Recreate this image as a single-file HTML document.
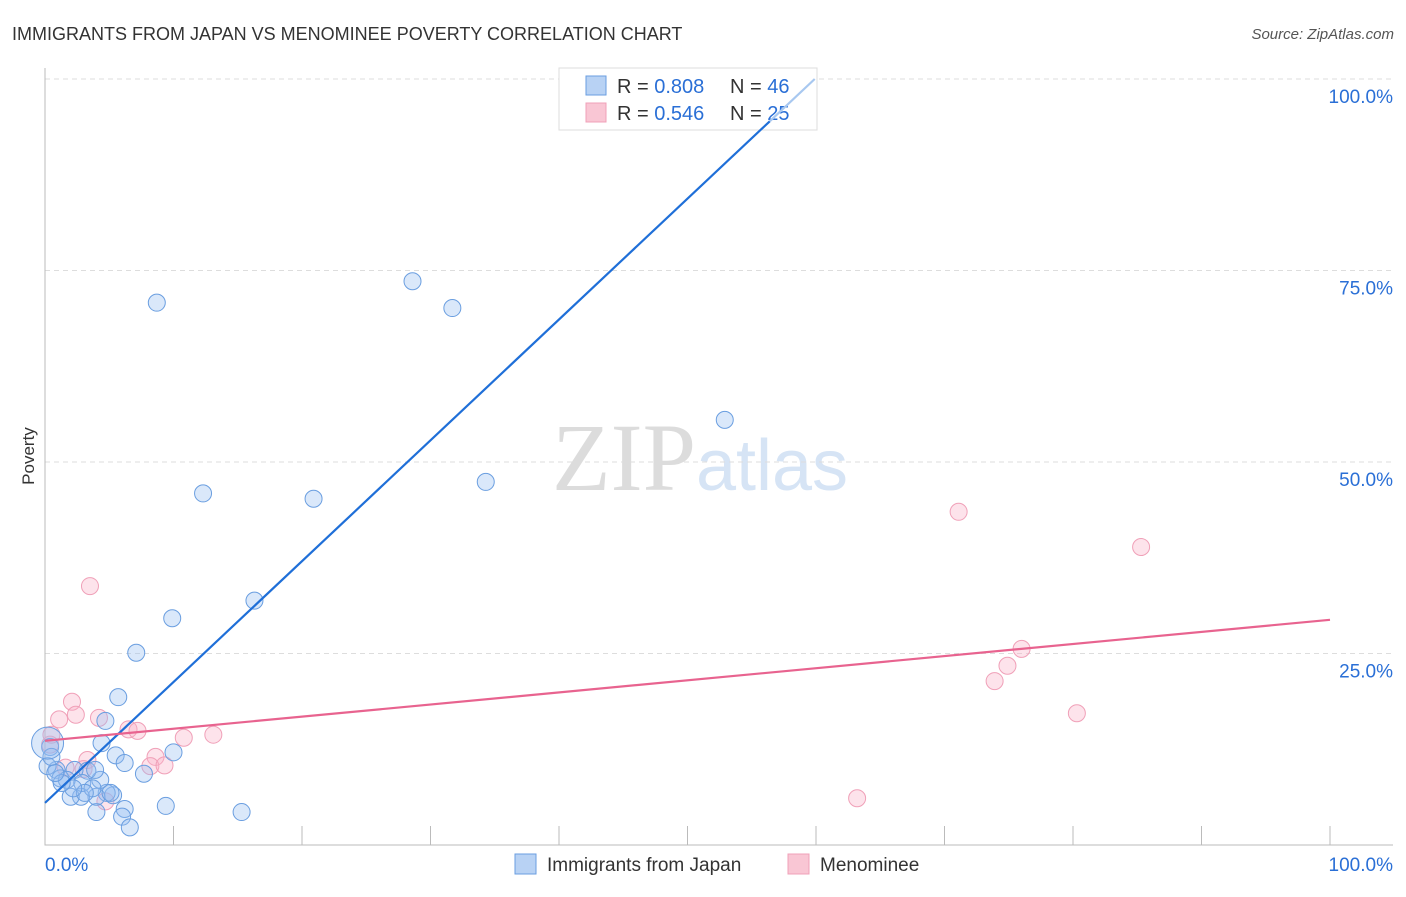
<!DOCTYPE html>
<html><head><meta charset="utf-8"><style>
body{margin:0;background:#fff;font-family:"Liberation Sans",sans-serif;}
svg text{font-family:"Liberation Sans",sans-serif;}
</style></head><body>
<svg id="chart" width="1406" height="892" xmlns="http://www.w3.org/2000/svg">
<text x="12" y="40" font-size="18" fill="#333">IMMIGRANTS FROM JAPAN VS MENOMINEE POVERTY CORRELATION CHART</text>
<text x="1394" y="39" font-size="15" fill="#555" text-anchor="end" font-style="italic">Source: ZipAtlas.com</text>
<text x="700" y="490" font-size="96" fill="#e4e4e4" text-anchor="middle" font-family="Liberation Serif"><tspan fill="#dcdcdc" font-family="Liberation Serif">ZIP</tspan><tspan fill="#d6e4f5" font-family="Liberation Sans" font-size="72">atlas</tspan></text>
<text x="34" y="456" font-size="17" fill="#333" text-anchor="middle" transform="rotate(-90 34 456)">Poverty</text>
<g id="grid"></g>
<g id="marks"></g>
<g>
<rect x="559" y="68" width="258" height="62" fill="#fff" stroke="#ddd"/>
<rect x="586" y="76" width="20" height="19" fill="#b8d2f4" stroke="#6a9ee0"/>
<rect x="586" y="103" width="20" height="19" fill="#f9c6d4" stroke="#f0a0b8"/>
<text x="617" y="93" font-size="20" fill="#333">R = <tspan fill="#2a6fd6">0.808</tspan></text>
<text x="730" y="93" font-size="20" fill="#333">N = <tspan fill="#2a6fd6">46</tspan></text>
<text x="617" y="120" font-size="20" fill="#333">R = <tspan fill="#2a6fd6">0.546</tspan></text>
<text x="730" y="120" font-size="20" fill="#333">N = <tspan fill="#2a6fd6">25</tspan></text>
</g>
<g id="lines"></g>
<g>
<rect x="515" y="854" width="21" height="20" fill="#b8d2f4" stroke="#6a9ee0"/>
<text x="547" y="871" font-size="19" fill="#333">Immigrants from Japan</text>
<rect x="788" y="854" width="21" height="20" fill="#f9c6d4" stroke="#f0a0b8"/>
<text x="820" y="871" font-size="19" fill="#333">Menominee</text>
</g>
</svg>
<script>
const yTicks=[25,50,75,100];
const yTickLabels=["25.0%","50.0%","75.0%","100.0%"];
const xTickCount=10;
const xEndLabels=["0.0%","100.0%"];
const japanX=[8.7,28.6,31.7,52.9,12.3,20.9,34.3,16.3,9.9,7.1,5.7,4.7,4.4,5.5,6.2,7.7,10.0,9.4,15.3,6.2,6.0,6.6,4.0,5.3,4.8,4.0,2.8,2.0,4.3,3.3,2.3,0.9,0.2,1.2,1.7,2.9,3.7,3.1,2.2,5.1,1.3,0.8,0.4,0.5,0.2,3.9];
const japanY=[70.8,73.6,70.1,55.5,45.9,45.2,47.4,31.9,29.6,25.1,19.3,16.2,13.3,11.7,10.7,9.3,12.1,5.1,4.3,4.7,3.7,2.3,4.3,6.5,6.8,6.3,6.3,6.3,8.5,9.7,9.8,9.8,10.3,8.7,8.5,8.1,7.4,6.8,7.4,6.8,8.1,9.4,12.8,11.5,13.3,9.8];
const menX=[3.5,2.1,2.4,1.1,4.2,6.5,7.2,10.8,13.1,8.6,8.2,9.3,3.3,3.0,1.6,4.7,0.4,0.5,71.1,85.3,76.0,74.9,73.9,80.3,63.2];
const menY=[33.8,18.7,17.0,16.4,16.6,15.1,14.9,14.0,14.4,11.5,10.3,10.4,11.1,9.9,10.1,5.7,13.1,14.4,43.5,38.9,25.6,23.4,21.4,17.2,6.1];
const japanTrend=[5.5,100];
const japanTrendEndX=59.9;
const menTrend=[13.6,29.4];

const NS="http://www.w3.org/2000/svg";
const X0=45,X1=1330,Y0=845,Y1=79;
const sx=v=>X0+(X1-X0)*v/100;
const sy=v=>Y0-(Y0-Y1)*v/100;
function mk(tag,attrs,parent){const e=document.createElementNS(NS,tag);for(const k in attrs)e.setAttribute(k,attrs[k]);parent.appendChild(e);return e;}
const grid=document.getElementById('grid'),marks=document.getElementById('marks'),lines=document.getElementById('lines');
yTicks.forEach((t,i)=>{
  const l=mk('line',{x1:X0,x2:1393,y1:sy(t),y2:sy(t),stroke:'#ddd','stroke-dasharray':'5,4'},grid);
  
  
  const tx=mk('text',{x:1393,y:sy(t)+24,'font-size':19,fill:'#2a6fd6','text-anchor':'end'},grid);
  tx.textContent=yTickLabels[i];
  
  
});
const ax=mk('path',{d:`M${X0} 68V${Y0}H1393`,stroke:'#bbb',fill:'none'},grid);


for(let i=1;i<=xTickCount;i++){
  const tk=mk('line',{x1:sx(i*10),x2:sx(i*10),y1:Y0-19,y2:Y0,stroke:'#bbb'},grid);
  
  
}
[[0,'start'],[100,'end']].forEach((p,i)=>{
  const t=mk('text',{x:i?1393:45,y:871,'font-size':19,fill:'#2a6fd6','text-anchor':p[1]},grid);
  t.textContent=xEndLabels[i];
  
  
});
function pts(xs,ys,fill,stroke,name){
  xs.forEach((x,i)=>{
    const big=(name==='japan-point'&&i===44);
    const c=mk('circle',{cx:sx(x),cy:sy(ys[i]),r:big?16:8.5,fill:fill,stroke:stroke,'stroke-width':1},marks);
    
    
  });
}
pts(menX,menY,'rgba(248,176,198,0.35)','#f0a0b8','menominee-point');
pts(japanX,japanY,'rgba(150,190,240,0.35)','#6a9ee0','japan-point');
const midX=japanTrendEndX-3.5;
const midY=japanTrend[0]+(japanTrend[1]-japanTrend[0])*midX/japanTrendEndX;
const jl=mk('line',{x1:sx(0),y1:sy(japanTrend[0]),x2:sx(midX),y2:sy(midY),stroke:'#1f6fd8','stroke-width':2.2},lines);


const jl2=mk('line',{x1:sx(midX),y1:sy(midY),x2:sx(japanTrendEndX),y2:sy(japanTrend[1]),stroke:'#a8c8f0','stroke-width':2.2},lines);


const ml=mk('line',{x1:sx(0),y1:sy(menTrend[0]),x2:sx(100),y2:sy(menTrend[1]),stroke:'#e8638f','stroke-width':2.2},lines);


</script>
</body></html>
